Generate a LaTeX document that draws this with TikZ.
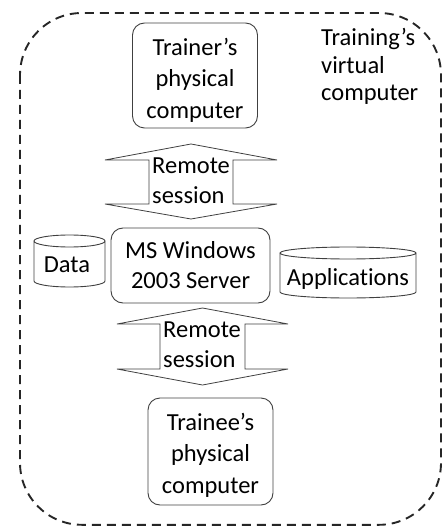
\documentclass[tikz,border=0pt]{standalone}
\usepackage{fontspec}
\setmainfont{Carlito}[Ligatures=NoCommon]
\begin{document}
\begin{tikzpicture}[x=1pt,y=-1pt,
  boxline/.style={draw=black!75,line width=0.9pt},
  rbox/.style={boxline,rounded corners=12pt,inner sep=0pt},
  boxtext/.style={inner sep=0pt,align=center,anchor=north,font=\fontsize{24.5}{31.5}\selectfont},
  plain/.style={inner sep=0pt,font=\fontsize{24.5}{30}\selectfont},
  arrowshape/.style={draw=black!75,line width=0.8pt,fill=white,line join=miter},
  outer/.style={draw=black!85,line width=1.9pt,dash pattern=on 9pt off 6pt,rounded corners=62pt}]
\useasboundingbox (0,0) rectangle (443,526);
% outer virtual computer
\draw[outer] (20,13) rectangle (441,524.8);
\node[plain,align=left,anchor=north west,font=\fontsize{24.5}{27.5}\selectfont] (virt) at (321,28.5) {Training’s\\virtual\\computer};
% top double arrow
\coordinate (a1) at (191,144);
\draw[arrowshape] (a1) -- (277,160) -- (233,160) -- (233,204) -- (277,204) -- (191,219)
  -- (105,204) -- (149,204) -- (149,160) -- (105,160) -- cycle;
\node[plain,align=left,anchor=north west] (rs1) at (152,158) {Remote\\session};
% bottom double arrow
\coordinate (a2) at (202.5,308);
\draw[arrowshape] (a2) -- (288,324) -- (245,324) -- (245,369) -- (288,369) -- (202.5,385)
  -- (117,369) -- (160,369) -- (160,324) -- (117,324) -- cycle;
\node[plain,align=left,anchor=north west] (rs2) at (163,322) {Remote\\session};
% boxes
\node[rbox,minimum width=125pt,minimum height=105pt] (trainer) at (195,75.5) {};
\node[boxtext] (trainertext) at (trainer.center |- 0,38) {Trainer’s\\physical\\computer};
\node[rbox,minimum width=159pt,minimum height=75pt,align=center,font=\fontsize{24.5}{30}\selectfont] (server) at (190.5,265.5) {MS Windows\\2003 Server};
\node[rbox,minimum width=125pt,minimum height=107pt] (trainee) at (210.5,451.5) {};
\node[boxtext] (traineetext) at (trainee.center |- 0,413) {Trainee’s\\physical\\computer};
% cylinders
\draw[boxline] (34,241) -- (34,281) arc[start angle=180,end angle=360,x radius=35.5pt,y radius=6pt]
  -- (105,241) (69.5,241) ellipse[x radius=35.5pt,y radius=6pt];
\node[plain] (data) at (67,265) {Data};
\draw[boxline] (280,253) -- (280,292) arc[start angle=180,end angle=360,x radius=68pt,y radius=6pt]
  -- (416,253) (348,253) ellipse[x radius=68pt,y radius=6pt];
\node[plain] (apps) at (348,279) {Applications};
\end{tikzpicture}
\end{document}
